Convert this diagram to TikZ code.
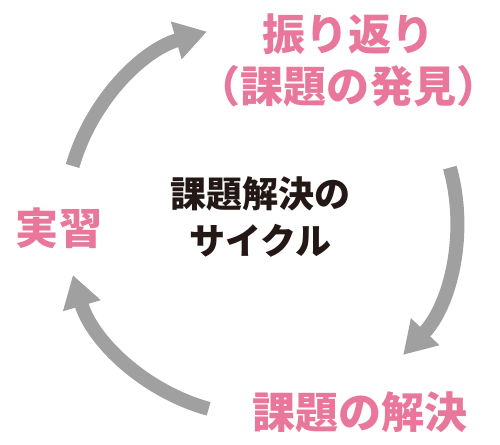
\documentclass[tikz,border=0pt]{standalone}
\usepackage{fontspec}
\usepackage{xcolor}
\usetikzlibrary{arrows.meta, calc}
\newfontfamily\jpfont{Noto Sans CJK JP}
\definecolor{labelpink}{RGB}{233,119,155}
\definecolor{arrowgray}{RGB}{160,160,160}
\definecolor{inkblack}{RGB}{35,24,21}

\begin{document}
\begin{tikzpicture}[x=0.02cm, y=0.02cm, every node/.style={font=\jpfont\bfseries}]
  \tikzset{steplabel/.style={text=labelpink, align=center, inner sep=0pt,
      font=\jpfont\bfseries\fontsize{24.5}{29.6}\selectfont},
    cyclelabel/.style={text=inkblack, align=center, inner sep=0pt,
      font=\jpfont\bfseries\fontsize{20.5}{26.7}\selectfont},
    cyclearrow/.style={draw=arrowgray, line width=0.28cm,
      -{Triangle[width=0.74cm, length=0.64cm]}}}
  \useasboundingbox (0, 0) rectangle (500, 445);
  \coordinate (hub) at (261, 225);
  \node[steplabel] (review) at (348.5, 385) {振り返り\\（課題の発見）};
  \node[steplabel] (practice) at (59, 217) {実習};
  \node[steplabel] (solve) at (360, 33) {課題の解決};
  \node[cyclelabel] (cycle) at (260.5, 228) {課題解決の\\サイクル};
  \draw[cyclearrow] ($(hub)+(164:196)$) arc[start angle=164, end angle=106, radius=196];
  \draw[cyclearrow] ($(hub)+(15.5:196)$) arc[start angle=15.5, end angle=-43.5, radius=196];
  \draw[cyclearrow] ($(hub)+(254.5:196)$) arc[start angle=254.5, end angle=196.3, radius=196];
\end{tikzpicture}
\end{document}
